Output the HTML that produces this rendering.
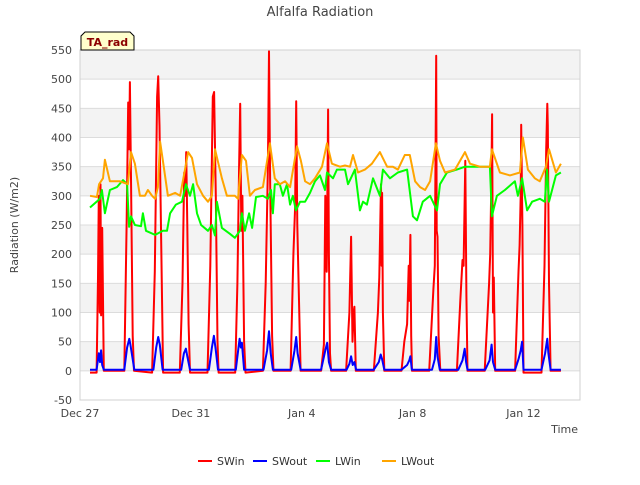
<!DOCTYPE html>
<html><head><meta charset="utf-8"><style>
body{margin:0;background:#fff;font-family:"Liberation Sans","DejaVu Sans",sans-serif;}
svg text{font-family:"DejaVu Sans","Liberation Sans",sans-serif;}
</style></head><body>
<svg id="chart" width="640" height="480" viewBox="0 0 640 480" xmlns="http://www.w3.org/2000/svg">
<rect width="640" height="480" fill="#fff"/>
<g id="bands"></g><g id="grid"></g><g id="series"></g><g id="axes"></g>
<text x="320" y="16" text-anchor="middle" font-size="13" fill="#444">Alfalfa Radiation</text>
<text transform="translate(18,225) rotate(-90)" text-anchor="middle" font-size="11" fill="#444">Radiation (W/m2)</text>
<text x="578" y="433" text-anchor="end" font-size="11" fill="#444">Time</text>
<g>
<path d="M81,50 L81,36 L85,32 L130,32 L134,36 L134,50 Z" fill="#ffffcc" stroke="#000" stroke-width="1"/>
<text x="107.5" y="46" text-anchor="middle" font-size="11" font-weight="bold" fill="#8b0000">TA_rad</text>
</g>
<g id="legend"></g>
</svg>
<script>
const yTicks=[-50,0,50,100,150,200,250,300,350,400,450,500,550];
const xTickDays=[0,4,8,12,16];
const xTickLabels=["Dec 27","Dec 31","Jan 4","Jan 8","Jan 12"];
const seriesNames=["SWin","SWout","LWin","LWout"];
const seriesColors=["#ff0000","#0000ff","#00ff00","#ffa500"];
const swin=[[0.36,-3],[0.6,-3],[0.65,160],[0.68,300],[0.71,100],[0.74,320],[0.76,95],[0.8,245],[0.86,0],[1.5,0],[1.6,0],[1.68,250],[1.74,460],[1.77,380],[1.8,495],[1.84,330],[1.9,60],[1.95,0],[2.6,-3],[2.7,170],[2.78,470],[2.82,505],[2.87,420],[2.95,150],[3.0,-3],[3.6,-3],[3.7,150],[3.76,340],[3.8,300],[3.83,375],[3.87,250],[3.92,80],[3.97,-3],[4.6,-3],[4.7,180],[4.79,470],[4.84,478],[4.9,300],[4.96,50],[5.0,-3],[5.6,-3],[5.68,150],[5.74,350],[5.78,458],[5.82,240],[5.86,300],[5.92,50],[5.97,-3],[6.6,0],[6.7,150],[6.78,350],[6.82,548],[6.86,330],[6.93,60],[6.98,0],[7.6,0],[7.7,200],[7.76,280],[7.8,462],[7.84,250],[7.9,120],[7.96,0],[8.7,0],[8.8,45],[8.85,300],[8.9,170],[8.95,448],[8.98,200],[9.02,30],[9.06,0],[9.6,0],[9.72,100],[9.78,230],[9.83,50],[9.87,100],[9.9,110],[9.95,0],[10.6,0],[10.75,100],[10.8,160],[10.86,320],[10.88,180],[10.9,305],[10.93,100],[10.98,0],[11.6,0],[11.7,50],[11.8,80],[11.86,180],[11.88,120],[11.92,233],[11.95,60],[11.98,0],[12.6,0],[12.75,140],[12.8,180],[12.85,540],[12.87,240],[12.9,230],[12.94,60],[13.0,0],[13.6,0],[13.72,120],[13.8,190],[13.84,180],[13.9,360],[13.94,130],[13.98,0],[14.6,0],[14.76,150],[14.8,200],[14.84,320],[14.87,440],[14.9,100],[14.93,160],[14.98,0],[15.7,0],[15.82,170],[15.86,215],[15.9,300],[15.92,422],[15.96,250],[16.0,-3],[16.65,-3],[16.76,180],[16.82,380],[16.86,458],[16.88,420],[16.92,150],[16.98,0],[17.35,0]];
const swout=[[0.36,2],[0.6,2],[0.68,30],[0.72,15],[0.76,35],[0.8,10],[0.86,2],[1.6,2],[1.7,40],[1.78,55],[1.82,45],[1.9,20],[1.96,2],[2.65,2],[2.75,40],[2.82,58],[2.88,45],[2.98,2],[3.65,2],[3.75,30],[3.82,38],[3.87,25],[3.97,2],[4.65,2],[4.76,40],[4.83,60],[4.9,35],[4.98,2],[5.62,2],[5.72,40],[5.76,55],[5.8,40],[5.84,48],[5.92,2],[6.62,2],[6.75,35],[6.82,68],[6.88,30],[6.96,2],[7.62,2],[7.74,35],[7.8,58],[7.85,30],[7.96,2],[8.7,2],[8.85,35],[8.92,48],[8.98,15],[9.06,2],[9.62,2],[9.72,12],[9.78,25],[9.84,10],[9.9,15],[9.96,2],[10.6,2],[10.78,15],[10.85,28],[10.9,20],[10.98,2],[11.6,2],[11.8,10],[11.88,18],[11.92,25],[11.97,2],[12.7,2],[12.8,20],[12.85,58],[12.9,25],[12.98,2],[13.65,2],[13.8,18],[13.88,38],[13.93,15],[13.98,2],[14.62,2],[14.78,18],[14.85,45],[14.9,15],[14.98,2],[15.7,2],[15.82,20],[15.9,35],[15.95,50],[16.0,2],[16.65,2],[16.78,30],[16.86,55],[16.9,30],[16.98,2],[17.35,2]];
const lwin=[[0.36,280],[0.72,295],[0.79,310],[0.9,270],[1.08,310],[1.33,315],[1.55,327],[1.7,320],[1.77,247],[1.84,265],[1.98,250],[2.2,248],[2.27,270],[2.38,240],[2.71,233],[2.99,240],[3.14,240],[3.25,270],[3.46,285],[3.68,290],[3.82,320],[3.97,300],[4.08,320],[4.22,270],[4.37,250],[4.62,240],[4.76,250],[4.87,232],[4.94,290],[5.12,245],[5.41,235],[5.59,228],[5.77,240],[5.84,270],[5.95,240],[6.1,270],[6.21,245],[6.35,298],[6.6,300],[6.78,295],[6.89,310],[6.96,270],[7.03,320],[7.21,320],[7.32,300],[7.47,320],[7.58,285],[7.68,300],[7.79,275],[7.94,290],[8.12,290],[8.3,305],[8.48,325],[8.66,335],[8.84,310],[8.91,340],[9.13,330],[9.27,345],[9.56,345],[9.67,320],[9.74,327],[9.92,345],[10.1,275],[10.21,290],[10.35,285],[10.57,330],[10.82,300],[10.93,345],[11.18,330],[11.47,340],[11.8,345],[12.01,265],[12.16,258],[12.37,290],[12.63,300],[12.88,275],[12.99,320],[13.24,340],[13.6,345],[13.89,350],[14.43,350],[14.79,350],[14.86,265],[15.04,300],[15.33,310],[15.69,325],[15.8,300],[15.95,330],[16.13,275],[16.31,290],[16.59,295],[16.77,290],[16.85,345],[16.92,290],[17.17,335],[17.35,340]];
const lwout=[[0.36,300],[0.61,298],[0.69,320],[0.83,330],[0.9,362],[1.08,325],[1.44,325],[1.73,320],[1.84,375],[1.98,355],[2.16,300],[2.34,300],[2.45,310],[2.6,300],[2.71,295],[2.81,315],[2.89,393],[2.99,360],[3.17,300],[3.43,305],[3.61,300],[3.79,345],[3.9,375],[4.04,365],[4.22,320],[4.44,300],[4.62,290],[4.76,300],[4.87,380],[5.12,330],[5.3,300],[5.59,300],[5.7,295],[5.84,370],[5.99,360],[6.13,300],[6.31,310],[6.6,315],[6.85,390],[7.03,330],[7.21,320],[7.4,325],[7.58,315],[7.83,385],[7.97,360],[8.12,325],[8.3,320],[8.48,330],[8.73,350],[8.91,390],[9.09,355],[9.38,350],[9.56,352],[9.74,350],[9.85,370],[10.03,340],[10.28,345],[10.53,355],[10.82,375],[11.08,350],[11.29,350],[11.47,345],[11.72,370],[11.9,370],[12.09,325],[12.27,315],[12.45,310],[12.63,325],[12.84,390],[12.99,360],[13.17,340],[13.53,345],[13.89,375],[14.07,355],[14.43,350],[14.79,350],[14.86,380],[15.15,340],[15.51,335],[15.87,340],[15.98,400],[16.16,345],[16.41,330],[16.59,325],[16.81,350],[16.92,380],[17.17,340],[17.35,355]];

const NS="http://www.w3.org/2000/svg";
const L=80,R=580,T=50,B=400,dMin=0,dMax=18.04,vMin=-50,vMax=550;
const xs=d=>L+(d-dMin)/(dMax-dMin)*(R-L);
const ys=v=>B-(v-vMin)/(vMax-vMin)*(B-T);
function mk(tag,attrs,parent){const e=document.createElementNS(NS,tag);for(const k in attrs)e.setAttribute(k,attrs[k]);parent.appendChild(e);return e;}
const bands=document.getElementById('bands'),grid=document.getElementById('grid'),axes=document.getElementById('axes'),ser=document.getElementById('series'),leg=document.getElementById('legend');
mk('rect',{x:L,y:T,width:R-L,height:B-T,fill:'#fff'},bands);
for(let i=1;i<yTicks.length-1;i+=2){
  const b=mk('rect',{x:L,y:ys(yTicks[i+1]),width:R-L,height:ys(yTicks[i])-ys(yTicks[i+1]),fill:'#f3f3f3'},bands);
  
  
}
yTicks.forEach(v=>{
  const g=mk('line',{x1:L,x2:R,y1:ys(v),y2:ys(v),stroke:'#dcdcdc','stroke-width':1},grid);
  
  
  const t=mk('text',{x:L-8,y:ys(v)+4,'text-anchor':'end','font-size':11,fill:'#444'},axes);
  
  
  t.textContent=v;
});
xTickDays.forEach((d,i)=>{
  const t=mk('text',{x:xs(d),y:417,'text-anchor':'middle','font-size':11,fill:'#444'},axes);
  
  
  t.textContent=xTickLabels[i];
});
const frame=mk('rect',{x:L,y:T,width:R-L,height:B-T,fill:'none',stroke:'#d0d0d0','stroke-width':1},axes);


[swin,swout,lwin,lwout].forEach((data,i)=>{
  const p=mk('polyline',{points:data.map(q=>xs(q[0]).toFixed(1)+','+ys(q[1]).toFixed(1)).join(' '),fill:'none',stroke:seriesColors[i],'stroke-width':2,'stroke-linejoin':'round'},ser);
  
  
});
const legX=[198,253,316,382];
seriesNames.forEach((n,i)=>{
  const g=mk('g',{},leg);
  
  
  mk('line',{x1:legX[i],x2:legX[i]+14,y1:461,y2:461,stroke:seriesColors[i],'stroke-width':2},g);
  const t=mk('text',{x:legX[i]+19,y:465,'font-size':11,fill:'#333'},g);
  t.textContent=n;
});
</script>
</body></html>
